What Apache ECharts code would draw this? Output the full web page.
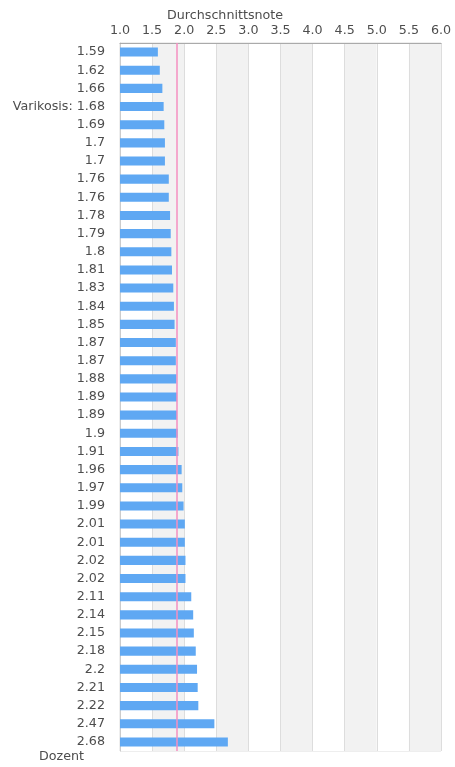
<!DOCTYPE html>
<html><head><meta charset="utf-8">
<script src="https://cdn.jsdelivr.net/npm/echarts@6/dist/echarts.min.js"></script>
<style>html,body{margin:0;padding:0;background:#fff}#c{width:455px;height:767px}</style>
</head><body><div id="c"></div>
<script>
const labels = ["1.59","1.62","1.66","Varikosis: 1.68","1.69","1.7","1.7","1.76","1.76","1.78","1.79","1.8","1.81","1.83","1.84","1.85","1.87","1.87","1.88","1.89","1.89","1.9","1.91","1.96","1.97","1.99","2.01","2.01","2.02","2.02","2.11","2.14","2.15","2.18","2.2","2.21","2.22","2.47","2.68"];
const values = [1.59,1.62,1.66,1.68,1.69,1.7,1.7,1.76,1.76,1.78,1.79,1.8,1.81,1.83,1.84,1.85,1.87,1.87,1.88,1.89,1.89,1.9,1.91,1.96,1.97,1.99,2.01,2.01,2.02,2.02,2.11,2.14,2.15,2.18,2.2,2.21,2.22,2.47,2.68];
const referenceLine = 1.89;
const xTitle = "Durchschnittsnote";
const yTitle = "Dozent";

const chart = echarts.init(document.getElementById('c'), null, {renderer:'canvas'});
const font = 'DejaVu Sans';
const fs = 12.7;
const tc = '#4d4d4d';
chart.setOption({
  animation:false,
  textStyle:{fontFamily:font},
  title:[
    {text:xTitle, left:167, top:9, padding:0, textStyle:{fontSize:fs, fontWeight:'normal', color:tc, fontFamily:font}},
    {text:yTitle, left:39, top:750, padding:0, textStyle:{fontSize:fs, fontWeight:'normal', color:tc, fontFamily:font}}
  ],
  grid:{left:120, right:14, top:43, bottom:16, show:true, borderColor:'#ddd', borderWidth:1, backgroundColor:'transparent'},
  xAxis:{
    type:'value', position:'top', min:1, max:6, interval:0.5,
    axisLine:{show:true, lineStyle:{color:'#aaa'}},
    axisTick:{show:false},
    axisLabel:{color:tc, fontSize:fs, margin:6, formatter:v=>v.toFixed(1)},
    splitLine:{show:true, lineStyle:{color:'#ddd'}},
    splitArea:{show:true, areaStyle:{color:['#ffffff','#f2f2f2']}}
  },
  yAxis:{
    type:'category', inverse:true,
    data:labels.map((l,i)=>String(i)),
    axisLine:{show:true, lineStyle:{color:'#ccc'}},
    axisTick:{show:false},
    axisLabel:{color:tc, fontSize:fs, margin:15, interval:0, formatter:v=>labels[+v]},
    splitLine:{show:false}
  },
  series:[{
    type:'bar', data:values, barCategoryGap:'50%',
    itemStyle:{color:'#5fa8f3'},
    markLine:{
      silent:true, symbol:['none','none'], label:{show:false},
      lineStyle:{color:'#f48fc0', width:1.5, type:'solid'},
      data:[{xAxis:referenceLine}]
    }
  }]
});
</script></body></html>
